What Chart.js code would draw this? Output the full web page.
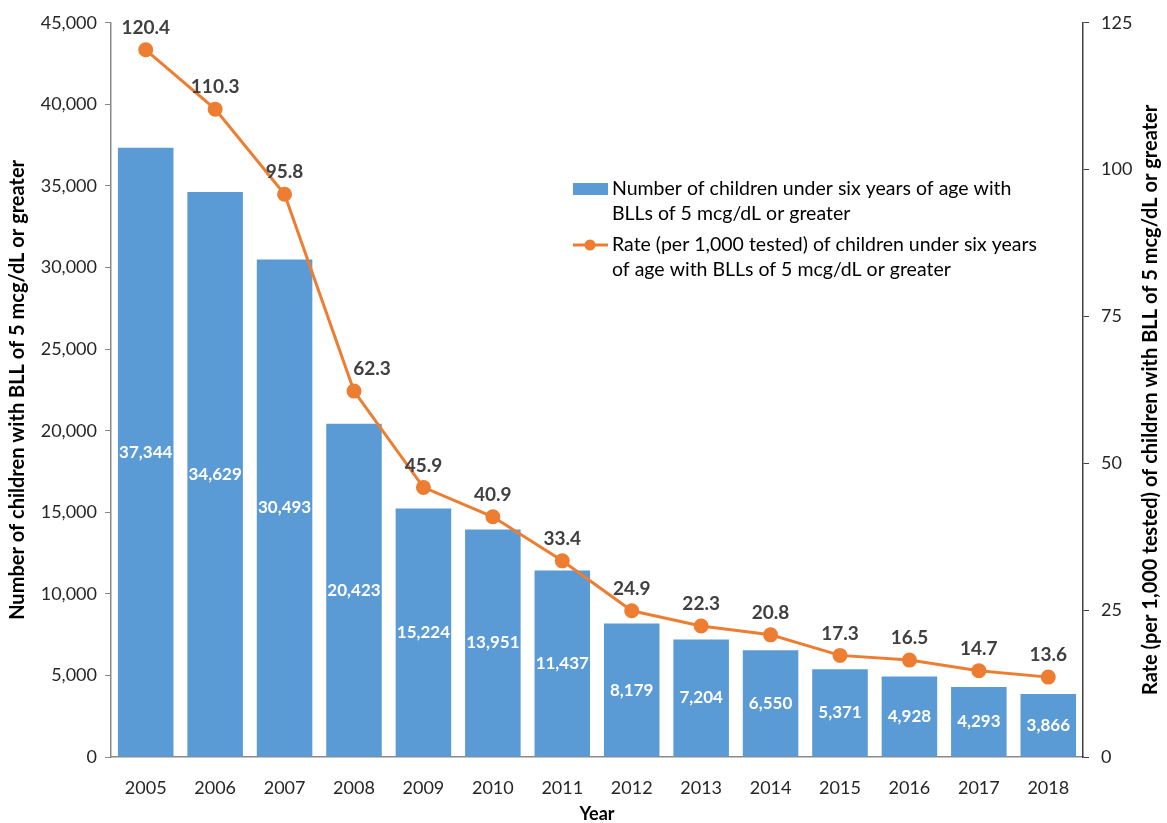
<!DOCTYPE html>
<html>
<head>
<meta charset="utf-8">
<script src="https://cdn.jsdelivr.net/npm/chart.js@4/dist/chart.umd.min.js"></script>
<style>
html, body { margin: 0; padding: 0; background: #fff; }
#wrap { width: 1167px; height: 823px; }
</style>
</head>
<body>
<div id="wrap"><canvas id="chart"></canvas></div>
<script>
const years = ["2005", "2006", "2007", "2008", "2009", "2010", "2011", "2012", "2013", "2014", "2015", "2016", "2017", "2018"];
const children = [37344, 34629, 30493, 20423, 15224, 13951, 11437, 8179, 7204, 6550, 5371, 4928, 4293, 3866];
const rates = [120.4, 110.3, 95.8, 62.3, 45.9, 40.9, 33.4, 24.9, 22.3, 20.8, 17.3, 16.5, 14.7, 13.6];
const barLegend = ["Number of children under six years of age with", "BLLs of 5 mcg/dL or greater"];
const lineLegend = ["Rate (per 1,000 tested) of children under six years", "of age with BLLs of 5 mcg/dL or greater"];
const leftTitle = "Number of children with BLL of 5 mcg/dL or greater";
const rightTitle = "Rate (per 1,000 tested) of children with BLL of 5 mcg/dL or greater";

const FONT = "Lato, 'Noto Sans', sans-serif";
const BLUE = "#5b9bd5";
const ORANGE = "#ed7d31";

// value labels: centred white on bars, grey above the line points
const valueLabels = {
	id: "valueLabels",
	afterDatasetsDraw(chart) {
		const ctx = chart.ctx;
		ctx.save();
		ctx.textAlign = "center";
		ctx.textBaseline = "middle";
		const bars = chart.getDatasetMeta(0);
		ctx.font = "bold 17px " + FONT;
		ctx.fillStyle = "#ffffff";
		bars.data.forEach((el, i) => {
			ctx.fillText(children[i].toLocaleString("en-US"), el.x, (el.y + el.base) / 2);
		});
		const line = chart.getDatasetMeta(1);
		ctx.font = "bold 19px " + FONT;
		ctx.fillStyle = "#404040";
		line.data.forEach((el, i) => {
			const dx = i === 3 ? 18 : 0;
			ctx.fillText(rates[i].toFixed(1), el.x + dx, el.y - 22);
		});
		ctx.restore();
	}
};

// legend inside the plot + right axis title (reads bottom to top like the left one)
const extras = {
	id: "extras",
	afterDraw(chart) {
		const ctx = chart.ctx;
		const area = chart.chartArea;
		ctx.save();
		ctx.font = "19.5px " + FONT;
		ctx.textBaseline = "middle";
		ctx.fillStyle = BLUE;
		ctx.fillRect(573, 183, 35, 12);
		ctx.fillStyle = "#000000";
		barLegend.forEach((t, i) => ctx.fillText(t, 612, 189 + i * 25));
		ctx.strokeStyle = ORANGE;
		ctx.lineWidth = 3;
		ctx.beginPath();
		ctx.moveTo(573, 245);
		ctx.lineTo(608, 245);
		ctx.stroke();
		ctx.fillStyle = ORANGE;
		ctx.beginPath();
		ctx.arc(590, 245, 5.5, 0, Math.PI * 2);
		ctx.fill();
		ctx.fillStyle = "#000000";
		lineLegend.forEach((t, i) => ctx.fillText(t, 612, 245 + i * 25));

		ctx.translate(1151, (area.top + area.bottom) / 2 + 10);
		ctx.rotate(-Math.PI / 2);
		ctx.textAlign = "center";
		ctx.font = "bold 20px " + FONT;
		ctx.fillText(rightTitle, 0, 0);
		ctx.restore();
	}
};

new Chart(document.getElementById("chart"), {
	type: "bar",
	data: {
		labels: years,
		datasets: [
			{ type: "bar", label: barLegend.join(" "), data: children, backgroundColor: BLUE, yAxisID: "y", order: 1, barPercentage: 0.8, categoryPercentage: 1 },
			{ type: "line", label: lineLegend.join(" "), data: rates, borderColor: ORANGE, backgroundColor: ORANGE, borderWidth: 3, pointRadius: 6, pointHoverRadius: 6, yAxisID: "y1", order: 0, tension: 0 }
		]
	},
	options: {
		responsive: true,
		maintainAspectRatio: false,
		animation: false,
		layout: { padding: { top: 17, left: 0, right: 0, bottom: 0 } },
		plugins: {
			legend: { display: false },
			tooltip: { enabled: false }
		},
		scales: {
			x: {
				grid: { display: false },
				border: { display: true, color: "#898989", width: 1.5 },
				ticks: { font: { family: FONT, size: 18 }, color: "#262626", padding: 12, maxRotation: 0 },
				title: { display: true, text: "Year", font: { family: FONT, size: 18, weight: "bold", lineHeight: 1 }, color: "#000", padding: { top: 4, bottom: 0 } },
				afterFit: s => { s.height = 66; }
			},
			y: {
				position: "left",
				min: 0,
				max: 45000,
				ticks: { stepSize: 5000, font: { family: FONT, size: 18 }, color: "#262626", padding: 8, callback: v => v.toLocaleString("en-US") },
				grid: { drawOnChartArea: false, drawTicks: true, tickLength: 6, color: "#898989" },
				border: { display: true, color: "#898989", width: 1.5 },
				title: { display: true, text: leftTitle, font: { family: FONT, size: 20, weight: "bold" }, color: "#000", padding: { top: 6, bottom: 0 } },
				afterFit: s => { s.width = 111; }
			},
			y1: {
				position: "right",
				min: 0,
				max: 125,
				ticks: { stepSize: 25, font: { family: FONT, size: 18 }, color: "#262626", padding: 12 },
				grid: { drawOnChartArea: false, drawTicks: true, tickLength: 6, color: "#404040" },
				border: { display: true, color: "#404040", width: 1.5 },
				afterFit: s => { s.width = 84; }
			}
		}
	},
	plugins: [valueLabels, extras]
});
</script>
</body>
</html>
